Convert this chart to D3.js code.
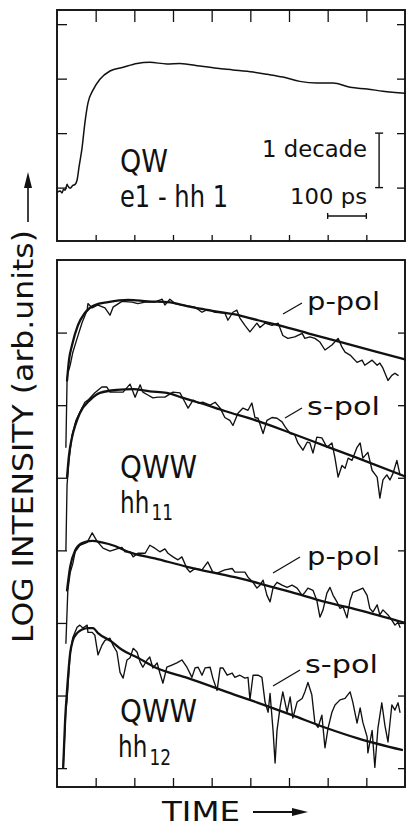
<!DOCTYPE html>
<html><head><meta charset="utf-8">
<script src="https://cdn.jsdelivr.net/npm/d3@7"></script>
<style>html,body{margin:0;padding:0;background:#fff;} svg{display:block;}</style>
</head><body>
<svg id="c" width="406" height="826"></svg>
<script>
// ---------- DATA (time in ps, intensity in log10 decades, arb. offset) ----------
const timeTicks = [100, 200, 300, 400, 500, 600, 700, 800];
const topDecadeTicks = [0, 1, 2, 3];
const bottomDecadeTicks = [0, 1, 2, 3, 4, 5, 6];

// Top panel: QW e1-hh1
const qwTrace = [[2,-0.08],[8,-0.06],[13,-0.10],[17,-0.03],[21,-0.05],[26,0.06],[28,0.03],[34,-0.01],[41,0.04],[47,0.06],[52,0.14],[57,0.38],[65,0.74],[72,1.18],[80,1.55],[93,1.79],[111,1.99],[137,2.14],[171,2.21],[207,2.28],[240,2.30],[284,2.27],[318,2.28],[370,2.23],[414,2.19],[455,2.16],[507,2.12],[543,2.08],[584,2.03],[628,1.95],[672,1.92],[714,1.92],[758,1.84],[802,1.81],[843,1.77],[900,1.73]];

// Bottom panel: QWW hh11 p-pol
const ppol11Data = [[23,4.42],[26,5.34],[28,5.44],[34,5.55],[41,5.73],[52,5.92],[65,6.14],[78,6.31],[80,6.40],[91,6.34],[106,6.38],[124,6.34],[137,6.24],[145,6.35],[168,6.43],[194,6.42],[209,6.40],[228,6.42],[253,6.42],[272,6.46],[279,6.38],[292,6.46],[305,6.40],[323,6.38],[357,6.35],[375,6.28],[390,6.32],[409,6.28],[434,6.27],[442,6.17],[455,6.28],[465,6.31],[473,6.20],[486,6.10],[499,6.01],[517,6.13],[525,6.07],[538,6.13],[556,6.10],[572,6.13],[584,5.96],[597,5.92],[615,5.94],[634,5.99],[641,5.92],[654,5.94],[667,5.92],[680,5.87],[693,5.76],[711,5.83],[727,5.92],[737,5.80],[745,5.73],[758,5.69],[776,5.59],[789,5.62],[796,5.55],[815,5.62],[828,5.55],[835,5.58],[843,5.51],[856,5.34],[866,5.41],[874,5.44],[882,5.41]];
const ppol11Fit = [[26,5.34],[31,5.62],[39,5.83],[54,6.10],[72,6.27],[98,6.38],[132,6.42],[184,6.45],[235,6.43],[287,6.42],[339,6.36],[390,6.31],[460,6.25],[520,6.17],[582,6.09],[649,5.99],[727,5.88],[822,5.74],[900,5.63]];

// QWW hh11 s-pol
const spol11Data = [[23,3.00],[26,3.90],[31,4.24],[39,4.59],[49,4.79],[59,4.90],[72,5.04],[80,5.07],[98,5.17],[116,5.25],[129,5.25],[137,5.18],[155,5.18],[171,5.18],[189,5.29],[202,5.11],[215,5.28],[222,5.18],[235,5.14],[248,5.10],[261,5.11],[279,5.11],[300,5.18],[318,5.17],[331,5.04],[339,4.96],[352,5.07],[365,5.03],[378,5.04],[396,5.00],[409,5.04],[422,4.96],[434,4.83],[447,4.79],[455,4.72],[468,4.89],[481,4.96],[494,4.93],[504,5.03],[512,4.83],[520,4.82],[533,4.61],[543,4.79],[556,4.83],[569,4.82],[582,4.77],[590,4.70],[603,4.61],[615,4.59],[623,4.48],[636,4.38],[647,4.49],[654,4.48],[662,4.34],[672,4.56],[685,4.55],[698,4.42],[711,4.48],[719,4.27],[727,4.01],[737,4.17],[745,4.13],[753,4.27],[763,4.24],[776,4.42],[784,4.48],[791,4.27],[804,4.35],[815,4.10],[828,4.01],[835,3.72],[843,3.97],[853,4.04],[861,3.97],[869,4.06],[879,4.24],[887,4.04]];
const spol11Fit = [[26,4.01],[31,4.31],[39,4.56],[49,4.75],[59,4.89],[85,5.07],[111,5.17],[155,5.21],[197,5.22],[240,5.19],[284,5.17],[326,5.10],[370,5.03],[434,4.92],[520,4.78],[608,4.61],[693,4.44],[778,4.27],[900,4.02]];

// QWW hh12 p-pol
const ppol12Data = [[23,1.72],[28,2.45],[34,2.69],[41,2.82],[47,2.98],[59,3.07],[78,3.11],[91,3.24],[103,3.13],[119,3.03],[137,2.99],[155,3.02],[168,3.04],[176,2.98],[189,2.98],[197,2.91],[209,2.96],[228,2.96],[240,3.07],[253,3.03],[266,2.98],[279,3.02],[287,2.96],[300,2.91],[313,2.87],[323,2.91],[336,2.75],[344,2.70],[357,2.75],[375,2.73],[390,2.84],[403,2.70],[416,2.69],[434,2.73],[453,2.75],[460,2.70],[473,2.70],[486,2.70],[494,2.63],[507,2.56],[517,2.48],[525,2.52],[533,2.59],[543,2.38],[551,2.29],[559,2.49],[569,2.56],[582,2.52],[595,2.49],[608,2.52],[621,2.48],[634,2.38],[641,2.42],[649,2.48],[662,2.45],[672,2.31],[680,2.08],[688,2.18],[698,2.41],[706,2.49],[714,2.38],[724,2.29],[732,2.20],[740,2.22],[750,2.07],[758,2.31],[765,2.42],[778,2.45],[791,2.48],[802,2.38],[809,2.20],[817,2.15],[828,2.25],[835,2.11],[843,2.18],[856,2.11],[866,2.04],[874,1.97],[882,2.01],[887,1.94]];
const ppol12Fit = [[26,2.45],[34,2.77],[47,3.00],[65,3.10],[91,3.13],[116,3.11],[150,3.06],[184,2.98],[253,2.89],[339,2.77],[460,2.63],[520,2.55],[608,2.42],[693,2.29],[778,2.18],[900,2.00]];

// QWW hh12 s-pol
const spol12Data = [[16,0.01],[23,0.80],[26,0.94],[34,1.58],[41,1.80],[52,1.94],[59,1.97],[67,1.93],[78,1.97],[80,1.87],[91,1.87],[98,1.83],[106,1.56],[116,1.69],[124,1.76],[137,1.79],[145,1.69],[155,1.60],[163,1.32],[171,1.24],[181,1.49],[189,1.52],[197,1.65],[207,1.60],[215,1.46],[222,1.39],[233,1.49],[240,1.53],[248,1.38],[259,1.45],[266,1.31],[274,1.17],[284,1.39],[297,1.42],[310,1.45],[323,1.49],[336,1.39],[349,1.25],[357,1.38],[365,1.39],[375,1.28],[383,1.38],[396,1.39],[403,1.24],[414,1.07],[422,1.38],[429,1.38],[440,1.28],[453,1.31],[460,1.25],[473,1.28],[486,1.24],[494,1.25],[499,0.94],[507,1.28],[520,1.28],[530,1.25],[538,0.91],[546,0.77],[551,1.03],[559,0.50],[564,0.07],[569,0.52],[577,0.84],[584,1.05],[595,0.77],[603,0.98],[610,0.69],[621,0.91],[634,0.96],[641,1.05],[649,1.18],[659,1.01],[667,0.62],[675,0.56],[685,0.73],[693,0.28],[701,0.55],[711,0.77],[719,0.87],[732,0.94],[745,0.96],[758,1.05],[765,0.91],[776,0.62],[784,0.83],[791,0.63],[802,0.43],[804,0.21],[815,0.52],[822,0.01],[830,0.55],[840,0.90],[848,0.59],[856,0.36],[866,0.87],[874,0.80],[882,0.90],[887,0.77]];
const spol12Fit = [[16,0.01],[21,0.66],[26,1.07],[34,1.58],[41,1.76],[52,1.86],[65,1.91],[80,1.93],[93,1.93],[106,1.86],[142,1.74],[168,1.63],[209,1.52],[253,1.39],[339,1.24],[460,1.01],[520,0.90],[608,0.73],[693,0.56],[778,0.41],[892,0.25]];

// ---------- DRAWING ----------
const svg = d3.select("#c");
const INK = "#111";
const FONT = "DejaVu Sans, Liberation Sans, sans-serif";

const x = d3.scaleLinear().domain([0, 900]).range([57, 405]);
const yTop = d3.scaleLinear().domain([-0.98, 3.26]).range([241, 10]);
const yBot = d3.scaleLinear().domain([-0.26, 7.0]).range([787, 260]);

function styleAxis(g) {
  g.select(".domain").remove();
  g.selectAll(".tick line").attr("stroke", INK).attr("stroke-width", 1.3);
  g.selectAll(".tick text").remove();
}

// Top panel axes
svg.append("g").attr("transform", `translate(0,${yTop.range()[1]})`)
  .call(d3.axisTop(x).tickValues(timeTicks).tickSize(-12).tickFormat("")).call(styleAxis);
svg.append("g").attr("transform", `translate(0,${yTop.range()[0]})`)
  .call(d3.axisBottom(x).tickValues(timeTicks).tickSize(-6).tickFormat("")).call(styleAxis);
svg.append("g").attr("transform", `translate(${x.range()[0]},0)`)
  .call(d3.axisLeft(yTop).tickValues(topDecadeTicks).tickSize(-10).tickFormat("")).call(styleAxis);
svg.append("g").attr("transform", `translate(${x.range()[1]},0)`)
  .call(d3.axisRight(yTop).tickValues(topDecadeTicks).tickSize(-8).tickFormat("")).call(styleAxis);

// Bottom panel axes
svg.append("g").attr("transform", `translate(0,${yBot.range()[0]})`)
  .call(d3.axisBottom(x).tickValues(timeTicks).tickSize(-9).tickFormat("")).call(styleAxis);
svg.append("g").attr("transform", `translate(${x.range()[0]},0)`)
  .call(d3.axisLeft(yBot).tickValues(bottomDecadeTicks).tickSize(-10).tickFormat("")).call(styleAxis);
svg.append("g").attr("transform", `translate(${x.range()[1]},0)`)
  .call(d3.axisRight(yBot).tickValues(bottomDecadeTicks).tickSize(-7).tickFormat("")).call(styleAxis);

// Frames
[yTop, yBot].forEach(ys => {
  svg.append("rect")
    .attr("x", x.range()[0]).attr("y", ys.range()[1])
    .attr("width", x.range()[1] - x.range()[0]).attr("height", ys.range()[0] - ys.range()[1])
    .attr("fill", "none").attr("stroke", INK).attr("stroke-width", 1.9);
});

// Curves
function drawLine(data, ys, width, curve) {
  const gen = d3.line().x(d => x(d[0])).y(d => ys(d[1])).curve(curve);
  svg.append("path").datum(data).attr("d", gen)
    .attr("fill", "none").attr("stroke", INK).attr("stroke-width", width)
    .attr("stroke-linejoin", "round").attr("stroke-linecap", "round");
}
drawLine(qwTrace, yTop, 1.5, d3.curveMonotoneX);
[ppol11Data, spol11Data, ppol12Data, spol12Data].forEach(d => drawLine(d, yBot, 1.35, d3.curveLinear));
[ppol11Fit, spol11Fit, ppol12Fit, spol12Fit].forEach(d => drawLine(d, yBot, 2.3, d3.curveMonotoneX));

// Text helper
function txt(xp, yp, s, size, len, extra) {
  const t = svg.append("text").attr("x", xp).attr("y", yp).text(s)
    .attr("font-family", FONT).attr("font-size", size).attr("fill", INK);
  if (len) t.attr("textLength", len).attr("lengthAdjust", "spacingAndGlyphs");
  if (extra) extra(t);
  return t;
}
// Label with subscript, horizontally condensed via transform (single text element)
function subLabel(xp, yp, main, sub, dy) {
  const t = svg.append("text").attr("transform", `translate(${xp},${yp}) scale(0.77,1)`)
    .attr("font-family", FONT).attr("fill", INK);
  t.append("tspan").attr("font-size", 30).text(main);
  t.append("tspan").attr("font-size", 22).attr("dx", 3).attr("dy", dy).text(sub);
}

// Top panel labels
txt(120, 172, "QW", 32, 48);
txt(120, 207, "e1 - hh 1", 30, 108);
txt(262, 157, "1 decade", 23, 105);
txt(290, 204, "100 ps", 22, 77);

// Scale bars
const sbx = x(833);
svg.append("line").attr("x1", sbx).attr("x2", sbx).attr("y1", yTop(0)).attr("y2", yTop(1))
  .attr("stroke", INK).attr("stroke-width", 1.4);
[0, 1].forEach(v => svg.append("line").attr("x1", sbx - 4).attr("x2", sbx + 4)
  .attr("y1", yTop(v)).attr("y2", yTop(v)).attr("stroke", INK).attr("stroke-width", 1.4));
const sby = yTop(-0.52);
svg.append("line").attr("x1", x(700)).attr("x2", x(800)).attr("y1", sby).attr("y2", sby)
  .attr("stroke", INK).attr("stroke-width", 1.4);
[700, 800].forEach(t => svg.append("line").attr("x1", x(t)).attr("x2", x(t))
  .attr("y1", sby - 3).attr("y2", sby + 3).attr("stroke", INK).attr("stroke-width", 1.4));

// Bottom panel labels
function polLabel(s, xp, yp, lx1, ly1, lx2, ly2) {
  txt(xp, yp, s, 25, 73);
  svg.append("line").attr("x1", lx1).attr("y1", ly1).attr("x2", lx2).attr("y2", ly2)
    .attr("stroke", INK).attr("stroke-width", 1.3);
}
polLabel("p-pol", 307, 310, 283, 314, 302, 303);
polLabel("s-pol", 307, 415, 285, 418, 302, 408);
polLabel("p-pol", 307, 565, 273, 573, 300, 557);
polLabel("s-pol", 305, 673, 273, 686, 300, 670);

txt(120, 478, "QWW", 32, 77);
subLabel(120, 513, "hh", "11", 7);
txt(120, 722, "QWW", 32, 77);
subLabel(118, 757, "hh", "12", 8);

// Y axis label (rotated)
txt(0, 0, "LOG INTENSITY (arb.units)", 28, 413,
  t => t.attr("transform", "translate(33,643) rotate(-90)"));
// up arrow
svg.append("line").attr("x1", 28).attr("x2", 28).attr("y1", 222).attr("y2", 184)
  .attr("stroke", INK).attr("stroke-width", 1.6);
svg.append("path").attr("d", "M28,172 L24,188 L32,188 Z").attr("fill", INK);

// X axis label
txt(162, 821, "TIME", 26, 78);
svg.append("line").attr("x1", 253).attr("x2", 296).attr("y1", 812).attr("y2", 812)
  .attr("stroke", INK).attr("stroke-width", 1.8);
svg.append("path").attr("d", "M308,812 L292,808 L292,816 Z").attr("fill", INK);
</script>
</body></html>
